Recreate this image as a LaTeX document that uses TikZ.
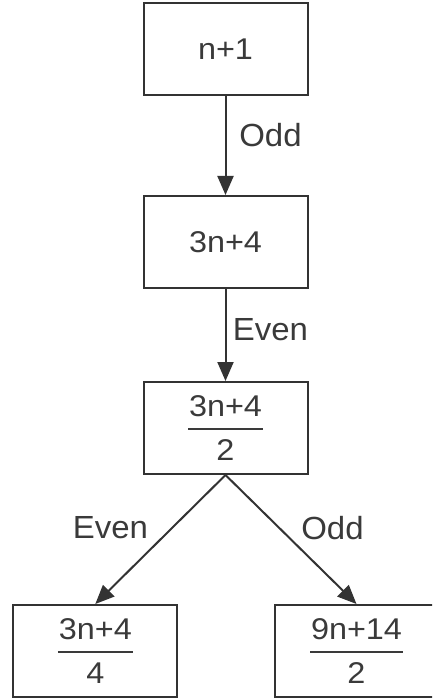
\documentclass[tikz,border=0pt]{standalone}
\usepackage{fontspec}
\setmainfont{Liberation Sans}
\newfontfamily\boxfont[FakeStretch=1.08]{Liberation Sans}
\newfontfamily\lblfont[FakeStretch=1.03]{Liberation Sans}
\usetikzlibrary{arrows.meta}
\definecolor{ln}{HTML}{333333}
\definecolor{tx}{HTML}{3A3A3A}
\newcommand{\myfr}[2]{{\def\arraystretch{0}\setlength{\arrayrulewidth}{2pt}\begin{tabular}{@{\hspace{1pt}}c@{\hspace{1pt}}}\rule[-12pt]{0pt}{0pt}#1\\\hline\rule{0pt}{30pt}#2\end{tabular}}}
\tikzset{
  box/.style={draw=ln, line width=2pt, minimum width=164pt, minimum height=92pt, inner sep=0pt, text=tx, font=\boxfont\fontsize{30}{36}\selectfont},
  lbl/.style={inner sep=0pt, text=tx, font=\lblfont\fontsize{32}{38}\selectfont},
  conn/.style={draw=ln, line width=2pt, -{Triangle[length=19pt,width=16pt]}}
}
\begin{document}
\begin{tikzpicture}[x=1pt,y=1pt]
\useasboundingbox (0,0) rectangle (432,-700);
\clip (0,0) rectangle (432,-700);
\node[box] (a) at (225.5,-49.5) {n+1};
\node[box] (b) at (225.5,-242) {3n+4};
\node[box] (c) at (225.5,-428) {\myfr{3n+4}{2}};
\node[box] (d) at (95.3,-651) {\myfr{3n+4}{4}};
\node[box] (e) at (356.5,-651) {\myfr{9n+14}{2}};
\draw[conn] (a.south) -- (b.north);
\draw[conn] (b.south) -- (c.north);
\draw[conn] (c.south) -- (d.north);
\draw[conn] (c.south) -- (e.north);
\node[lbl] (l1) at (270.5,-135) {Odd};
\node[lbl] (l2) at (270.5,-330) {Even};
\node[lbl] (l3) at (110.5,-528) {Even};
\node[lbl] (l4) at (332.5,-528) {Odd};
\end{tikzpicture}
\end{document}
